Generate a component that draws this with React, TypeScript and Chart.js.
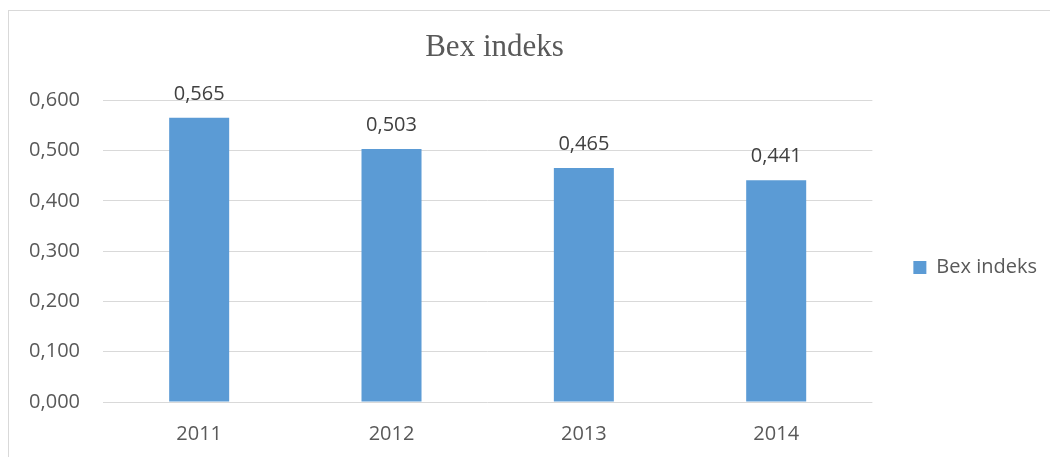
import React, { useEffect, useRef } from 'react';
import { Chart, registerables } from 'chart.js';

Chart.register(...registerables);

const titleText = 'Bex indeks';
const seriesName = 'Bex indeks';
const categories = ['2011', '2012', '2013', '2014'];
const bexValues = [0.565, 0.503, 0.465, 0.441];
const yMin = 0;
const yMax = 0.6;
const yStep = 0.1;

const fmt = (v: number) => Number(v).toFixed(3).replace('.', ',');

const FONT = '"Open Sans", "Liberation Sans", sans-serif';

const valueLabels = {
  id: 'valueLabels',
  afterDatasetsDraw(chart: any) {
    const ctx = chart.ctx;
    chart.data.datasets.forEach((ds: any, i: number) => {
      const meta = chart.getDatasetMeta(i);
      meta.data.forEach((bar: any, j: number) => {
        ctx.save();
        ctx.font = `20px ${FONT}`;
        ctx.fillStyle = '#404040';
        ctx.textAlign = 'center';
        ctx.textBaseline = 'alphabetic';
        ctx.fillText(fmt(ds.data[j]), bar.x, bar.y - 18);
        ctx.restore();
      });
    });
  },
};

export default function App() {
  const ref = useRef<HTMLCanvasElement | null>(null);

  useEffect(() => {
    if (!ref.current) return;
    const chart = new Chart(ref.current, {
      type: 'bar',
      data: {
        labels: categories,
        datasets: [
          {
            label: seriesName,
            data: bexValues,
            backgroundColor: '#5B9BD5',
            borderWidth: 0,
            categoryPercentage: 1,
            barPercentage: 0.312,
          },
        ],
      },
      options: {
        responsive: false,
        animation: false,
        layout: { padding: { left: -58, right: 3, top: 0, bottom: 0 } },
        plugins: {
          title: {
            display: true,
            text: titleText,
            color: '#595959',
            font: { family: '"Liberation Serif", "Times New Roman", serif', size: 31, weight: 'normal', lineHeight: 1.2 },
            padding: { top: 29, bottom: 34 },
          },
          legend: {
            display: true,
            position: 'right',
            align: 'center',
            title: { display: true, text: '', font: { size: 10, lineHeight: 1.2 }, padding: 33 },
            labels: {
              boxWidth: 13,
              boxHeight: 13,
              padding: 41,
              color: '#595959',
              font: { family: FONT, size: 20 },
            },
          },
          tooltip: { enabled: false },
        },
        scales: {
          x: {
            grid: { display: false, drawTicks: false },
            border: { display: false },
            ticks: { color: '#595959', font: { family: FONT, size: 20 }, padding: 20 },
            afterFit: (s: any) => { s.height = 55; },
          },
          y: {
            min: yMin,
            max: yMax,
            grid: { color: '#D9D9D9', lineWidth: 1, drawTicks: false },
            border: { display: false },
            ticks: {
              stepSize: yStep,
              color: '#595959',
              font: { family: FONT, size: 20 },
              padding: 23,
              callback: (v: any) => fmt(v),
            },
            afterFit: (s: any) => { s.width = 161; },
          },
        },
      },
      plugins: [valueLabels],
    });
    return () => chart.destroy();
  }, []);

  return (
    <div style={{ position: 'absolute', left: 0, top: 0, width: 1050, height: 457, overflow: 'hidden', background: '#fff' }}>
      <div style={{ position: 'absolute', left: 8, top: 10, width: 2000, height: 2000, borderLeft: '1px solid #D9D9D9', borderTop: '1px solid #D9D9D9' }} />
      <canvas ref={ref} width={1050} height={457} style={{ position: 'absolute', left: 0, top: 0, display: 'block' }} />
    </div>
  );
}
